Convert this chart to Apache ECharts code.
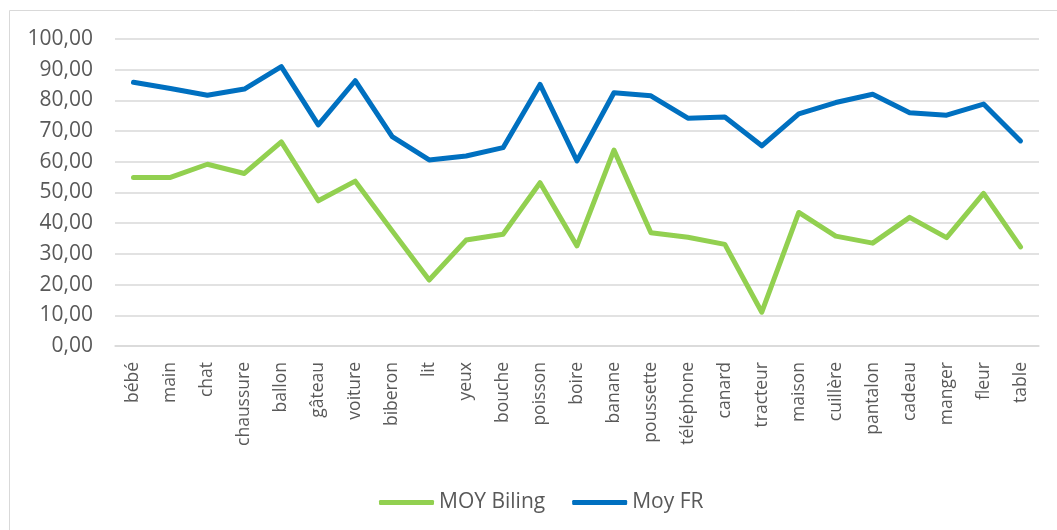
<!DOCTYPE html>
<html>
<head>
<meta charset="utf-8">
<script src="https://cdn.jsdelivr.net/npm/echarts@6/dist/echarts.min.js"></script>
<style>
  html, body { margin: 0; padding: 0; background: #fff; }
  #chart { width: 1057px; height: 530px; }
</style>
</head>
<body>
<div id="chart"></div>
<script>
// catégories (mots)
var mots = ['bébé', 'main', 'chat', 'chaussure', 'ballon', 'gâteau', 'voiture', 'biberon', 'lit', 'yeux',
  'bouche', 'poisson', 'boire', 'banane', 'poussette', 'téléphone', 'canard', 'tracteur', 'maison',
  'cuillère', 'pantalon', 'cadeau', 'manger', 'fleur', 'table'];

// MOY Biling
var moyBiling = [54.9, 54.9, 59.2, 56.2, 66.5, 47.3, 53.7, 37.5, 21.5, 34.5,
  36.4, 53.2, 32.6, 63.8, 36.9, 35.4, 33.1, 11.0, 43.5,
  35.8, 33.5, 41.9, 35.3, 49.7, 32.3];

// Moy FR
var moyFR = [85.9, 83.9, 81.7, 83.7, 91.0, 72.0, 86.4, 68.2, 60.6, 61.9,
  64.6, 85.2, 60.3, 82.5, 81.5, 74.2, 74.6, 65.2, 75.6,
  79.3, 82.0, 76.0, 75.2, 78.8, 66.8];

var police = '"Open Sans", "Noto Sans", sans-serif';
var gris = '#595959';

var myChart = echarts.init(document.getElementById('chart'));
var option = {
  animation: false,
  // cadre du graphique
  graphic: [{
    type: 'rect',
    shape: { x: 9.5, y: 10.5, width: 1060, height: 540 },
    style: { fill: 'none', stroke: '#d9d9d9', lineWidth: 1 },
    silent: true
  }],
  grid: { left: 115, right: 18, top: 39, bottom: 184 },
  legend: {
    top: 487,
    left: 374,
    itemWidth: 55,
    itemHeight: 5,
    itemGap: 27,
    icon: 'roundRect',
    textStyle: { color: gris, fontSize: 21, fontFamily: police },
    data: ['MOY Biling', 'Moy FR']
  },
  xAxis: {
    type: 'category',
    data: mots,
    boundaryGap: true,
    axisLine: { lineStyle: { color: '#d9d9d9', width: 1.5 } },
    axisTick: { show: false },
    axisLabel: {
      rotate: 90,
      interval: 0,
      margin: 16,
      color: gris,
      fontSize: 17.5,
      fontFamily: police
    }
  },
  yAxis: {
    type: 'value',
    min: 0,
    max: 100,
    interval: 10,
    axisLine: { show: false },
    axisTick: { show: false },
    splitLine: { lineStyle: { color: '#d9d9d9', width: 1.5 } },
    axisLabel: {
      margin: 22,
      color: gris,
      fontSize: 21,
      fontFamily: police,
      formatter: function (v) { return v.toFixed(2).replace('.', ','); }
    }
  },
  series: [
    {
      name: 'MOY Biling',
      type: 'line',
      data: moyBiling,
      showSymbol: false,
      symbol: 'none',
      color: '#92D050',
      lineStyle: { width: 5, join: 'round', cap: 'round' }
    },
    {
      name: 'Moy FR',
      type: 'line',
      data: moyFR,
      showSymbol: false,
      symbol: 'none',
      color: '#0070C0',
      lineStyle: { width: 5, join: 'round', cap: 'round' }
    }
  ]
};
myChart.setOption(option);
</script>
</body>
</html>
